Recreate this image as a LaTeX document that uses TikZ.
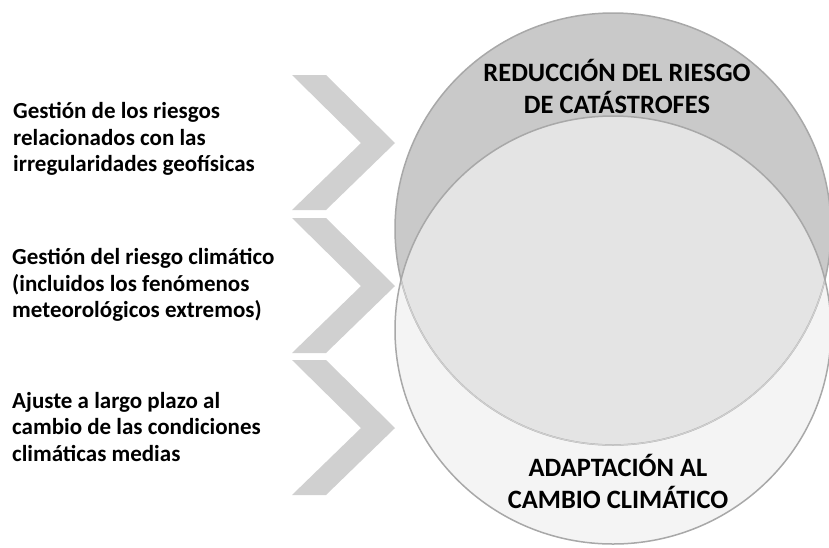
\documentclass[tikz,border=0pt]{standalone}
\usepackage{fontspec}
\setmainfont{Carlito}
\usetikzlibrary{positioning}
\definecolor{topgray}{HTML}{C9C9C9}
\definecolor{midgray}{HTML}{E4E4E4}
\definecolor{lowgray}{HTML}{F4F4F4}
\definecolor{rimgray}{HTML}{A8A8A8}
\definecolor{softrim}{HTML}{CFCFCF}
\definecolor{chevgray}{HTML}{D0D0D0}
\tikzset{
    mytext/.style = {anchor=west, align=left, inner sep=0, font=\fontsize{23}{26.5}\selectfont\bfseries, text=black},
    mytitle/.style = {align=center, inner sep=0, font=\fontsize{26.5}{32}\selectfont\bfseries, text=black},
    chevron/.style = {fill=chevgray, draw=none},
    rim/.style = {draw=rimgray, line width=1.5pt},
    rimsoft/.style = {draw=softrim, line width=1.2pt},
    topcirc/.style = {x radius=218, y radius=216},
    lowcirc/.style = {x radius=218, y radius=214}
}

\begin{document}
\begin{tikzpicture}[x=1pt,y=-1pt]
\useasboundingbox (0,0) rectangle (829,547);

% chevrons
\foreach \y in {75,218,360}
  \fill[chevron] (292,\y) -- (326,\y) -- (395,\y+68) -- (326,\y+135) -- (292,\y+135) -- (361,\y+68) -- cycle;

% circles
\fill[topgray] (613,229) ellipse [topcirc];
\fill[lowgray] (613,330) ellipse [lowcirc];
\begin{scope}
\clip (613,229) ellipse [topcirc];
\fill[midgray] (613,330) ellipse [lowcirc];
\end{scope}
\draw[rim] (613,229) ellipse [topcirc];
\begin{scope}
\clip (613,330) ellipse [lowcirc];
\draw[rimsoft] (613,229) ellipse [topcirc];
\end{scope}
\draw[rim] (613,330) ellipse [lowcirc];

% labels
\node[mytitle] (drr) at (617,86) {REDUCCIÓN DEL RIESGO\\DE CATÁSTROFES};
\node[mytitle] (acc) at (618,481) {ADAPTACIÓN AL\\CAMBIO CLIMÁTICO};

\node[mytext] (geo) at (13,139) {Gestión de los riesgos\\relacionados con las\\irregularidades geofísicas};
\node[mytext] (clim) at (12,285) {Gestión del riesgo climático\\(incluidos los fenómenos\\meteorológicos extremos)};
\node[mytext] (ajuste) at (12,427) {Ajuste a largo plazo al\\cambio de las condiciones\\climáticas medias};

\end{tikzpicture}
\end{document}
